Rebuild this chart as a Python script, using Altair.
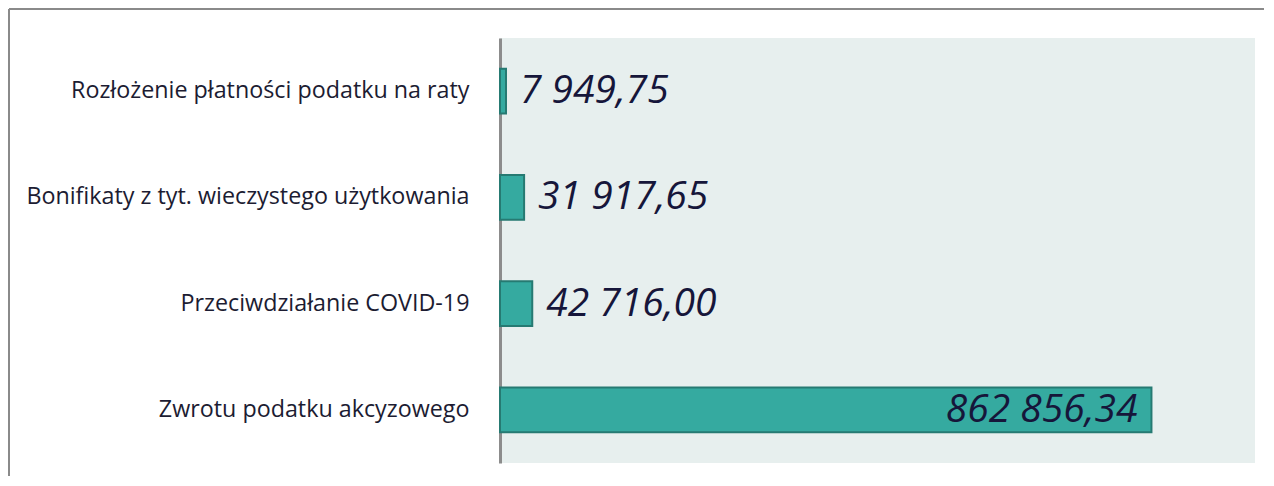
import altair as alt
import pandas as pd

categories = [
    "Rozłożenie płatności podatku na raty",
    "Bonifikaty z tyt. wieczystego użytkowania",
    "Przeciwdziałanie COVID-19",
    "Zwrotu podatku akcyzowego",
]
values = [7949.75, 31917.65, 42716.00, 862856.34]


def fmt(v):
    s = f"{v:,.2f}"
    return s.replace(",", " ").replace(".", ",")


labels = [fmt(v) for v in values]
df = pd.DataFrame({"kategoria": categories, "kwota": values, "etykieta": labels})

y = alt.Y(
    "kategoria:N",
    sort=categories,
    title=None,
    scale=alt.Scale(paddingInner=0.58, paddingOuter=0.29),
    axis=alt.Axis(
        domainColor="#8c8c8c",
        domainWidth=3,
        ticks=False,
        grid=False,
        labelFont="Open Sans",
        labelFontSize=23.3,
        labelColor="#1c1c32",
        labelPadding=31,
        labelLimit=600,
    ),
)
x = alt.X("kwota:Q", scale=alt.Scale(domain=[0, 1000000], nice=False), axis=None)

base = alt.Chart(df)
bars = base.mark_bar(color="#35AAA0", stroke="#267A72", strokeWidth=2).encode(x=x, y=y)

txt_style = dict(font="Open Sans", fontSize=39, fontStyle="italic", color="#16163a", baseline="middle")
small = base.transform_filter(alt.datum.kwota < 500000).mark_text(align="left", dx=14, **txt_style).encode(
    x=x, y=y, text="etykieta:N"
)
large = base.transform_filter(alt.datum.kwota >= 500000).mark_text(align="right", dx=-14, **txt_style).encode(
    x=x, y=y, text="etykieta:N"
)

frame_data = alt.Data(values=[{"f": 1}])
frame_left = alt.Chart(frame_data).mark_rule(color="#8a8a8a", strokeWidth=2).encode(
    x=alt.value(-491), y=alt.value(-29), y2=alt.value(438)
)
frame_top = alt.Chart(frame_data).mark_rule(color="#8a8a8a", strokeWidth=2).encode(
    x=alt.value(-491), x2=alt.value(764), y=alt.value(-29)
)

chart = (
    alt.layer(bars, small, large, frame_left, frame_top)
    .properties(width=755, height=425, padding=0, background="white")
    .configure_view(fill="#E7EFEE", strokeWidth=0)
)

chart.save("out.html", embed_options={"renderer": "svg", "actions": False})
